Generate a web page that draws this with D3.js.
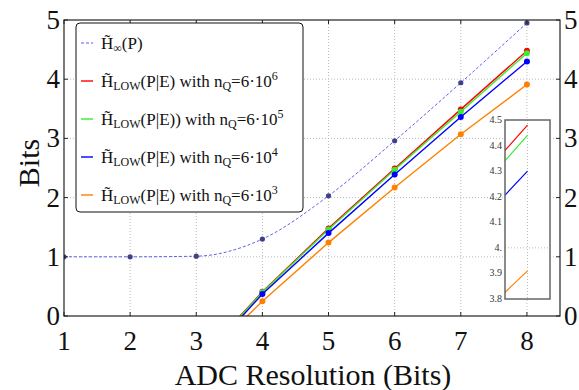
<!DOCTYPE html>
<html>
<head>
<meta charset="utf-8">
<script src="https://cdn.jsdelivr.net/npm/d3@7"></script>
<style>
  body { margin: 0; background: #fff; }
  text { font-family: "Liberation Serif", "DejaVu Serif", serif; fill: #111; }
</style>
</head>
<body>
<div id="chart"></div>
<script>
// data
var bits      = [1, 2, 3, 4, 5, 6, 7, 8];
var hInf      = [1.00, 1.00, 1.01, 1.30, 2.03, 2.96, 3.94, 4.95];
var lowBits   = [3, 4, 5, 6, 7, 8];
var low6      = [-0.80, 0.41, 1.48, 2.49, 3.49, 4.48];
var low5      = [-0.82, 0.40, 1.46, 2.47, 3.45, 4.44];
var low4      = [-0.85, 0.37, 1.40, 2.39, 3.36, 4.30];
var low3      = [-0.84, 0.25, 1.24, 2.17, 3.07, 3.91];
var xTicks    = [1, 2, 3, 4, 5, 6, 7, 8];
var yTicks    = [0, 1, 2, 3, 4, 5];
var insetTicks = ['3.8', '3.9', '4.', '4.1', '4.2', '4.3', '4.4', '4.5'];

var chart_width  = 579;
var chart_height = 390;

var svg = d3.select('#chart')
    .append('svg')
    .attr('width', chart_width)
    .attr('height', chart_height);

var x_scale = d3.scaleLinear().domain([1, 8.5]).range([64, 560]);
var y_scale = d3.scaleLinear().domain([0, 5]).range([316, 20]);

var series = [
    {name: 'n6', ys: low6, color: '#ff0000', exp: '6'},
    {name: 'n5', ys: low5, color: '#33ee33', exp: '5'},
    {name: 'n4', ys: low4, color: '#0000ff', exp: '4'},
    {name: 'n3', ys: low3, color: '#ff8000', exp: '3'}
];

svg.append('clipPath').attr('id', 'plot')
    .append('rect')
    .attr('x', 64).attr('y', 20)
    .attr('width', 496).attr('height', 296);

// grid
var grid = svg.append('g')
    .attr('stroke', '#bbb')
    .attr('stroke-dasharray', '1,2');
grid.selectAll('.gx')
    .data(xTicks.slice(1))
    .enter()
    .append('line')
    .attr('x1', function(d){ return x_scale(d); })
    .attr('x2', function(d){ return x_scale(d); })
    .attr('y1', y_scale(0))
    .attr('y2', y_scale(5));
grid.selectAll('.gy')
    .data(yTicks.slice(1, 5))
    .enter()
    .append('line')
    .attr('x1', x_scale(1))
    .attr('x2', x_scale(8.5))
    .attr('y1', function(d){ return y_scale(d); })
    .attr('y2', function(d){ return y_scale(d); });

var plot = svg.append('g').attr('clip-path', 'url(#plot)');

// H inf dashed curve
var hLine = d3.line()
    .x(function(d, i){ return x_scale(bits[i]); })
    .y(function(d){ return y_scale(d); })
    .curve(d3.curveMonotoneX);
plot.append('path')
    .attr('d', hLine(hInf))
    .attr('fill', 'none')
    .attr('stroke', '#6060f0')
    .attr('stroke-width', 1)
    .attr('stroke-dasharray', '3,2');
plot.selectAll('.hdot')
    .data(hInf)
    .enter()
    .append('circle')
    .attr('cx', function(d, i){ return x_scale(bits[i]); })
    .attr('cy', function(d){ return y_scale(d); })
    .attr('r', 2.6)
    .attr('fill', '#40408a');

var lowLine = d3.line()
    .x(function(d, i){ return x_scale(lowBits[i]); })
    .y(function(d){ return y_scale(d); });

series.forEach(function(s){
    plot.append('path')
        .attr('d', lowLine(s.ys))
        .attr('fill', 'none')
        .attr('stroke', s.color)
        .attr('stroke-width', 1.4);
    plot.selectAll('.dot-' + s.name)
        .data(s.ys)
        .enter()
        .append('circle')
        .attr('cx', function(d, i){ return x_scale(lowBits[i]); })
        .attr('cy', function(d){ return y_scale(d); })
        .attr('r', 3)
        .attr('fill', s.color);
});

// frame + ticks
svg.append('rect')
    .attr('x', 64).attr('y', 20)
    .attr('width', 496).attr('height', 296)
    .attr('fill', 'none')
    .attr('stroke', '#222')
    .attr('stroke-width', 1.2);

var ticks = svg.append('g').attr('stroke', '#222').attr('stroke-width', 1);
yTicks.forEach(function(d){
    ticks.append('line').attr('x1', 64).attr('x2', 68)
        .attr('y1', y_scale(d)).attr('y2', y_scale(d));
    ticks.append('line').attr('x1', 556).attr('x2', 560)
        .attr('y1', y_scale(d)).attr('y2', y_scale(d));
});
xTicks.forEach(function(d){
    ticks.append('line').attr('x1', x_scale(d)).attr('x2', x_scale(d))
        .attr('y1', 316).attr('y2', 312);
    ticks.append('line').attr('x1', x_scale(d)).attr('x2', x_scale(d))
        .attr('y1', 20).attr('y2', 24);
});

svg.selectAll('.ylab')
    .data(yTicks)
    .enter()
    .append('text')
    .attr('x', 60)
    .attr('y', function(d){ return y_scale(d) + 9; })
    .attr('text-anchor', 'end')
    .attr('font-size', 27)
    .text(function(d){ return d; });
svg.selectAll('.ylab2')
    .data(yTicks)
    .enter()
    .append('text')
    .attr('x', 564)
    .attr('y', function(d){ return y_scale(d) + 9; })
    .attr('font-size', 27)
    .text(function(d){ return d; });
svg.selectAll('.xlab')
    .data(xTicks)
    .enter()
    .append('text')
    .attr('x', function(d){ return x_scale(d); })
    .attr('y', 350)
    .attr('text-anchor', 'middle')
    .attr('font-size', 27)
    .text(function(d){ return d; });

svg.append('text')
    .attr('x', 313).attr('y', 385)
    .attr('text-anchor', 'middle')
    .attr('font-size', 30)
    .text('ADC Resolution (Bits)');
svg.append('text')
    .attr('transform', 'translate(39,163) rotate(-90)')
    .attr('text-anchor', 'middle')
    .attr('font-size', 30)
    .text('Bits');

// inset
var ix = d3.scaleLinear().domain([7.9, 8.1]).range([505, 550]);
var iy = d3.scaleLinear().domain([3.8, 4.5]).range([299, 120]);

svg.append('clipPath').attr('id', 'inset')
    .append('rect')
    .attr('x', 505).attr('y', 120)
    .attr('width', 45).attr('height', 179);
svg.append('rect')
    .attr('x', 505).attr('y', 120)
    .attr('width', 45).attr('height', 179)
    .attr('fill', '#fff');
var ins = svg.append('g').attr('clip-path', 'url(#inset)');
ins.append('line')
    .attr('x1', ix(8)).attr('x2', ix(8))
    .attr('y1', 120).attr('y2', 299)
    .attr('stroke', '#bbb').attr('stroke-dasharray', '1,2');
ins.append('line')
    .attr('x1', 505).attr('x2', 550)
    .attr('y1', iy(4)).attr('y2', iy(4))
    .attr('stroke', '#bbb').attr('stroke-dasharray', '1,2');
var insetLine = d3.line()
    .x(function(d, i){ return ix(lowBits[i]); })
    .y(function(d){ return iy(d); });
series.forEach(function(s){
    ins.append('path')
        .attr('d', insetLine(s.ys))
        .attr('fill', 'none')
        .attr('stroke', s.color)
        .attr('stroke-width', 1.2);
});
svg.append('rect')
    .attr('x', 505).attr('y', 120)
    .attr('width', 45).attr('height', 179)
    .attr('fill', 'none')
    .attr('stroke', '#666')
    .attr('stroke-width', 1.5);
svg.selectAll('.ilab')
    .data(insetTicks)
    .enter()
    .append('text')
    .attr('x', 502)
    .attr('y', function(d){ return iy(+d) + 3; })
    .attr('text-anchor', 'end')
    .attr('font-size', 10)
    .style('fill', '#333')
    .text(function(d){ return d; });

// legend
var legend = svg.append('g');
legend.append('rect')
    .attr('x', 76).attr('y', 23)
    .attr('width', 227).attr('height', 189)
    .attr('rx', 4)
    .attr('fill', '#fff')
    .attr('stroke', '#111')
    .attr('stroke-width', 1);

var entries = [{color: '#6060f0', dash: '3,2', inf: true}].concat(series);
var rowY = [43, 81, 119, 157, 195];

entries.forEach(function(e, i){
    var y = rowY[i];
    legend.append('line')
        .attr('x1', 81).attr('x2', 93)
        .attr('y1', y).attr('y2', y)
        .attr('stroke', e.color)
        .attr('stroke-width', e.inf ? 1 : 1.4)
        .attr('stroke-dasharray', e.dash || null);
    var t = legend.append('text')
        .attr('x', 101).attr('y', y + 6)
        .attr('font-size', 17);
    t.append('tspan').text('H\u0303');
    if (e.inf) {
        t.append('tspan').attr('font-size', 12).attr('dy', 3).text('\u221e');
        t.append('tspan').attr('dy', -3).text('(P)');
    } else {
        t.append('tspan').attr('font-size', 12).attr('dy', 3).text('LOW');
        t.append('tspan').attr('dy', -3)
            .text((e.exp === '5' ? '(P|E))' : '(P|E)') + ' with n');
        t.append('tspan').attr('font-size', 12).attr('dy', 3).text('Q');
        t.append('tspan').attr('dy', -3).text('=6\u00b710');
        t.append('tspan').attr('font-size', 12).attr('dy', -7).text(e.exp);
    }
});
</script>
</body>
</html>
